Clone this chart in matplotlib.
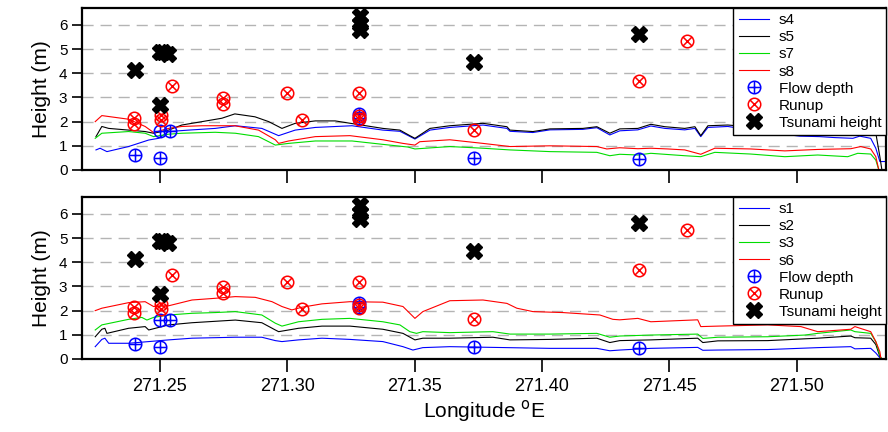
import matplotlib
matplotlib.use("Agg")
import matplotlib.pyplot as plt
from matplotlib.path import Path

plt.rcParams['font.family'] = ['Liberation Sans', 'DejaVu Sans']

# ---- profile lines, top panel ----
s4_lon = [271.2249, 271.2265, 271.2292, 271.2377, 271.2456, 271.2495, 271.2534, 271.2613, 271.2717, 271.2796,
          271.2900, 271.2966, 271.3031, 271.3110, 271.3254, 271.3375, 271.3442, 271.3501, 271.3560, 271.3638,
          271.3768, 271.3862, 271.3874, 271.3964, 271.4031, 271.4160, 271.4215, 271.4266, 271.4305, 271.4376,
          271.4427, 271.4482, 271.4560, 271.4600, 271.4623, 271.4651, 271.4729, 271.4855, 271.5012, 271.5090,
          271.5149, 271.5220, 271.5247, 271.5290, 271.5310, 271.5326, 271.5345, 271.5357]
s4_h = [0.83, 0.90, 0.76, 0.97, 1.24, 1.31, 1.59, 1.65, 1.72, 1.83,
        1.72, 1.42, 1.65, 1.76, 1.83, 1.65, 1.60, 1.28, 1.65, 1.76,
        1.86, 1.72, 1.60, 1.55, 1.66, 1.68, 1.75, 1.45, 1.62, 1.66,
        1.82, 1.72, 1.66, 1.72, 1.38, 1.76, 1.80, 1.60, 1.40, 1.38,
        1.34, 1.31, 1.40, 1.31, 0.90, 0.35, 0.35, 0.40]

s5_lon = [271.2249, 271.2272, 271.2299, 271.2377, 271.2442, 271.2475, 271.2534, 271.2586, 271.2665, 271.2743,
          271.2794, 271.2873, 271.2927, 271.2979, 271.3031, 271.3110, 271.3188, 271.3254, 271.3375, 271.3442,
          271.3481, 271.3501, 271.3560, 271.3638, 271.3768, 271.3862, 271.3874, 271.3964, 271.4031, 271.4160,
          271.4215, 271.4266, 271.4305, 271.4376, 271.4427, 271.4482, 271.4560, 271.4600, 271.4623, 271.4651,
          271.4729, 271.4855, 271.5012, 271.5130, 271.5247, 271.5310, 271.5326, 271.5334]
s5_h = [1.38, 1.80, 1.72, 1.65, 1.59, 1.52, 1.65, 1.86, 2.00, 2.14,
        2.32, 2.20, 2.00, 1.72, 1.93, 2.03, 2.03, 1.92, 1.72, 1.65,
        1.42, 1.31, 1.72, 1.83, 1.93, 1.79, 1.65, 1.59, 1.70, 1.72,
        1.79, 1.52, 1.70, 1.72, 1.89, 1.79, 1.72, 1.79, 1.42, 1.83,
        1.86, 1.75, 1.70, 1.75, 1.65, 1.53, 0.55, 0.0]

s7_lon = [271.2246, 271.2272, 271.2377, 271.2442, 271.2475, 271.2534, 271.2586, 271.2717, 271.2796, 271.2887,
          271.2953, 271.3005, 271.3110, 271.3254, 271.3375, 271.3473, 271.3501, 271.3638, 271.3768, 271.3874,
          271.4031, 271.4215, 271.4266, 271.4305, 271.4376, 271.4427, 271.4560, 271.4623, 271.4678, 271.4819,
          271.4953, 271.5082, 271.5200, 271.5239, 271.5290, 271.5310, 271.5322]
s7_h = [1.31, 1.52, 1.59, 1.52, 1.38, 1.48, 1.52, 1.56, 1.52, 1.38,
        1.03, 1.10, 1.20, 1.20, 1.06, 0.95, 0.87, 0.97, 0.90, 0.83,
        0.76, 0.73, 0.59, 0.65, 0.62, 0.69, 0.59, 0.55, 0.73, 0.66,
        0.55, 0.62, 0.55, 0.69, 0.66, 0.41, 0.0]

s8_lon = [271.2246, 271.2272, 271.2377, 271.2442, 271.2475, 271.2534, 271.2586, 271.2665, 271.2794, 271.2887,
          271.2953, 271.2966, 271.3005, 271.3110, 271.3246, 271.3375, 271.3454, 271.3501, 271.3520, 271.3638,
          271.3768, 271.3874, 271.4031, 271.4215, 271.4254, 271.4305, 271.4376, 271.4427, 271.4494, 271.4560,
          271.4623, 271.4678, 271.4819, 271.4953, 271.5082, 271.5212, 271.5251, 271.5290, 271.5310, 271.5322]
s8_h = [2.00, 2.25, 2.10, 1.80, 1.55, 1.72, 1.80, 1.83, 1.83, 1.65,
        1.25, 1.10, 1.20, 1.38, 1.42, 1.25, 1.10, 1.03, 1.17, 1.25,
        1.10, 0.97, 1.00, 0.97, 0.87, 0.92, 0.88, 0.90, 0.87, 0.83,
        0.65, 0.90, 0.87, 0.79, 0.85, 0.88, 0.97, 0.87, 0.55, 0.0]

# ---- profile lines, bottom panel ----
s1_lon = [271.2246, 271.2272, 271.2284, 271.2299, 271.2377, 271.2456, 271.2534, 271.2626, 271.2796, 271.2900,
          271.2953, 271.2979, 271.3044, 271.3136, 271.3246, 271.3375, 271.3454, 271.3493, 271.3532, 271.3638,
          271.3807, 271.4031, 271.4215, 271.4266, 271.4305, 271.4427, 271.4611, 271.4631, 271.4690, 271.4886,
          271.5082, 271.5212, 271.5228, 271.5290, 271.5310, 271.5326, 271.5334]
s1_h = [0.51, 0.81, 0.86, 0.65, 0.65, 0.72, 0.79, 0.86, 0.90, 0.90,
        0.76, 0.72, 0.79, 0.86, 0.81, 0.72, 0.51, 0.37, 0.47, 0.51,
        0.48, 0.44, 0.44, 0.34, 0.37, 0.44, 0.48, 0.36, 0.37, 0.39,
        0.47, 0.51, 0.42, 0.44, 0.25, 0.05, 0.0]

s2_lon = [271.2246, 271.2272, 271.2284, 271.2292, 271.2377, 271.2442, 271.2456, 271.2534, 271.2626, 271.2796,
          271.2900, 271.2953, 271.2966, 271.3044, 271.3136, 271.3246, 271.3375, 271.3454, 271.3501, 271.3532,
          271.3638, 271.3807, 271.3874, 271.4031, 271.4215, 271.4266, 271.4305, 271.4427, 271.4611, 271.4631,
          271.4690, 271.4886, 271.5082, 271.5212, 271.5228, 271.5290, 271.5310, 271.5326, 271.5334]
s2_h = [0.92, 1.23, 1.27, 1.06, 1.27, 1.34, 1.20, 1.41, 1.50, 1.61,
        1.50, 1.20, 1.13, 1.27, 1.36, 1.36, 1.23, 1.06, 0.79, 0.86,
        0.86, 0.90, 0.79, 0.81, 0.86, 0.68, 0.76, 0.79, 0.86, 0.68,
        0.75, 0.76, 0.86, 0.95, 0.88, 0.86, 0.60, 0.10, 0.0]

s3_lon = [271.2246, 271.2272, 271.2377, 271.2429, 271.2449, 271.2475, 271.2534, 271.2626, 271.2717, 271.2796,
          271.2900, 271.2953, 271.2979, 271.3044, 271.3136, 271.3246, 271.3375, 271.3442, 271.3481, 271.3507,
          271.3532, 271.3638, 271.3807, 271.3874, 271.4031, 271.4215, 271.4266, 271.4305, 271.4427, 271.4611,
          271.4631, 271.4690, 271.4886, 271.5031, 271.5082, 271.5212, 271.5228, 271.5290, 271.5310, 271.5328,
          271.5334]
s3_h = [1.20, 1.41, 1.64, 1.72, 1.61, 1.72, 1.82, 1.89, 1.92, 1.96,
        1.82, 1.48, 1.36, 1.54, 1.64, 1.68, 1.54, 1.41, 1.13, 1.06,
        1.13, 1.09, 1.13, 1.03, 1.03, 1.06, 0.90, 0.95, 0.99, 1.03,
        0.85, 0.90, 0.92, 0.99, 1.06, 1.20, 1.13, 1.06, 0.72, 0.10,
        0.0]

s6_lon = [271.2246, 271.2272, 271.2377, 271.2442, 271.2475, 271.2534, 271.2626, 271.2717, 271.2796, 271.2874,
          271.2940, 271.2979, 271.3018, 271.3057, 271.3136, 271.3246, 271.3375, 271.3454, 271.3501, 271.3532,
          271.3638, 271.3768, 271.3862, 271.3901, 271.3964, 271.4082, 271.4227, 271.4278, 271.4305, 271.4376,
          271.4427, 271.4611, 271.4623, 271.4690, 271.4886, 271.5016, 271.5082, 271.5212, 271.5228, 271.5290,
          271.5310, 271.5326, 271.5330]
s6_h = [2.00, 2.10, 2.33, 2.37, 2.17, 2.20, 2.44, 2.51, 2.58, 2.55,
        2.37, 2.17, 2.03, 2.14, 2.28, 2.37, 2.35, 2.17, 1.68, 1.96,
        2.41, 2.44, 2.30, 2.10, 1.96, 1.92, 1.82, 1.64, 1.62, 1.68,
        1.54, 1.62, 1.34, 1.36, 1.41, 1.34, 1.13, 1.23, 1.34, 1.13,
        0.72, 0.30, 0.03]

# ---- field survey points (same in both panels) ----
flow_lon = [271.2403, 271.2502, 271.2502, 271.2539, 271.3283, 271.3283, 271.3732, 271.4380]
flow_h = [0.62, 0.48, 1.61, 1.61, 2.32, 2.15, 0.48, 0.46]

runup_lon = [271.2398, 271.2398, 271.2503, 271.2503, 271.2548, 271.2746, 271.2746, 271.3000,
             271.3056, 271.3283, 271.3283, 271.3283, 271.3732, 271.4380, 271.4570]
runup_h = [2.14, 1.90, 2.26, 2.07, 3.48, 2.97, 2.72, 3.20,
           2.07, 3.17, 2.25, 2.12, 1.65, 3.68, 5.34]

tsunami_lon = [271.2404, 271.2501, 271.2512, 271.2531, 271.2501, 271.3284, 271.3284, 271.3284, 271.3732, 271.4380]
tsunami_h = [4.14, 4.90, 4.88, 4.78, 2.69, 6.35, 6.05, 5.78, 4.45, 5.61]

xticks = [271.25, 271.30, 271.35, 271.40, 271.45, 271.50]

top_lines = [(s4_lon, s4_h, 'blue', 's4'), (s5_lon, s5_h, 'black', 's5'),
             (s7_lon, s7_h, '#00dd00', 's7'), (s8_lon, s8_h, 'red', 's8')]
bot_lines = [(s1_lon, s1_h, 'blue', 's1'), (s2_lon, s2_h, 'black', 's2'),
             (s3_lon, s3_h, '#00dd00', 's3'), (s6_lon, s6_h, 'red', 's6')]


def circle_cross(diag):
    # open circle with a plus (or a rotated x) inside
    circ = Path.unit_circle()
    if diag:
        d = 0.7071
        cross = Path([(-d, -d), (d, d), (-d, d), (d, -d)],
                     [Path.MOVETO, Path.LINETO, Path.MOVETO, Path.LINETO])
    else:
        cross = Path([(-1, 0), (1, 0), (0, -1), (0, 1)],
                     [Path.MOVETO, Path.LINETO, Path.MOVETO, Path.LINETO])
    return Path.make_compound_path(circ, cross)


oplus = circle_cross(False)
otimes = circle_cross(True)

fig = plt.figure(figsize=(8.88, 4.32), dpi=100)
ax1 = fig.add_axes([0.0923, 0.6065, 0.906, 0.375])
ax2 = fig.add_axes([0.0923, 0.169, 0.906, 0.375])

for ax, lines in [(ax1, top_lines), (ax2, bot_lines)]:
    for lon, h, c, lab in lines:
        ax.plot(lon, h, color=c, lw=0.8, label=lab)
    ax.plot(flow_lon, flow_h, ls='none', marker=oplus, ms=9, mfc='none', mec='blue',
            mew=1.1, label='Flow depth', zorder=4)
    ax.plot(runup_lon, runup_h, ls='none', marker=otimes, ms=9, mfc='none', mec='red',
            mew=1.1, label='Runup', zorder=5)
    ax.plot(tsunami_lon, tsunami_h, ls='none', marker='X', ms=11, color='black',
            mec='black', label='Tsunami height', zorder=6)

    for yv in range(1, 7):
        ax.axhline(yv, color='#b4b4b4', lw=1.0, ls=(0, (8, 5)), zorder=0)

    ax.set_xlim(271.2194, 271.5352)
    ax.set_ylim(0, 6.7)
    ax.set_yticks(range(0, 7))
    ax.set_xticks(xticks)
    ax.tick_params(axis='y', direction='out', length=7, width=1.2, labelsize=11)
    ax.tick_params(axis='x', direction='out', length=9, width=1.2, labelsize=13, pad=5)
    for sp in ax.spines.values():
        sp.set_linewidth(1.6)
    ax.set_ylabel('Height (m)', fontsize=15, labelpad=6)

    leg = ax.legend(loc='upper right', fontsize=11, frameon=True, fancybox=False,
                    borderaxespad=0, handlelength=2.0, labelspacing=0.2,
                    handletextpad=0.6, borderpad=0.35, framealpha=1)
    leg.get_frame().set_edgecolor('black')
    leg.get_frame().set_linewidth(1.0)
    leg.set_zorder(10)

ax1.set_xticklabels([])
ax2.set_xticklabels(['%.2f' % t for t in xticks])
ax2.set_xlabel(r'Longitude $^{\rm o}$E', fontsize=15, labelpad=2)

fig.savefig('out.png', dpi=100)
